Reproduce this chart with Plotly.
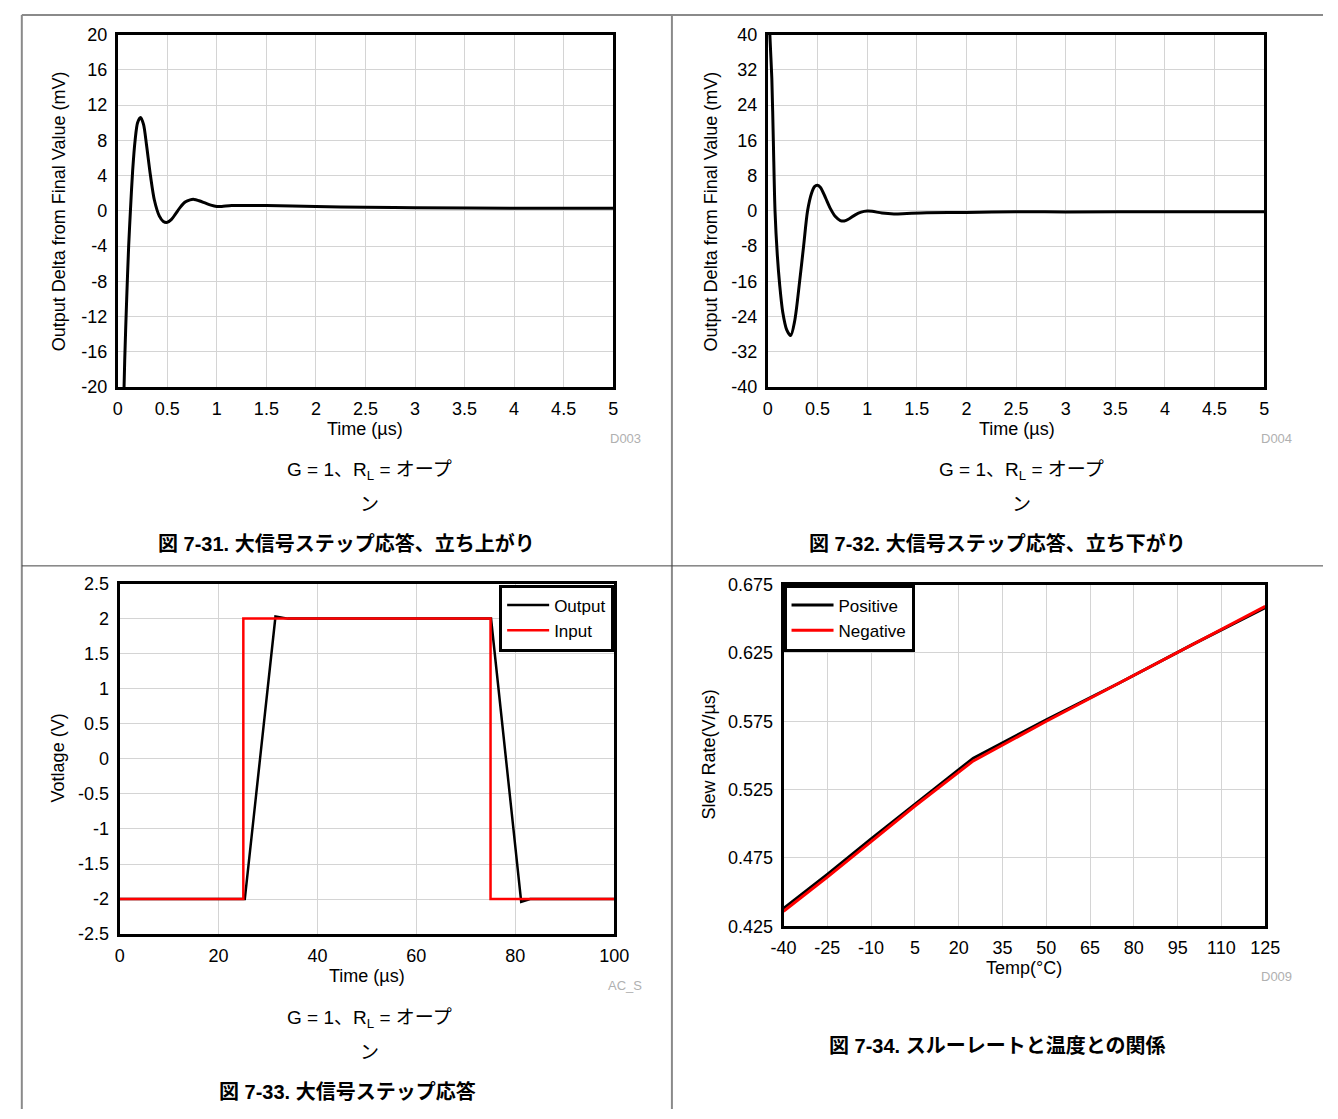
import plotly.graph_objects as go

W, H = 1338, 1119
FONT = "Liberation Sans, Arial, Noto Sans CJK JP, sans-serif"

# ---- Rising large-signal step response (mV from final value vs time, µs)
rise_t = [0.055, 0.07, 0.09, 0.11, 0.13, 0.15, 0.175, 0.20, 0.23, 0.26, 0.29, 0.33,
          0.37, 0.42, 0.46, 0.50, 0.54, 0.58, 0.63, 0.68, 0.73, 0.77, 0.82, 0.88,
          0.94, 1.0, 1.05, 1.15, 1.5, 2.0, 2.5, 3.0, 4.0, 5.0]
rise_mv = [-24, -17, -10, -4, 0.5, 4.5, 8, 10, 10.6, 9.8, 7.5, 4,
           1.2, -0.6, -1.2, -1.3, -1.0, -0.4, 0.4, 1.0, 1.25, 1.3, 1.15, 0.9,
           0.65, 0.5, 0.5, 0.6, 0.6, 0.5, 0.4, 0.35, 0.3, 0.3]

# ---- Falling large-signal step response
fall_t = [0.01, 0.02, 0.04, 0.055, 0.072, 0.095, 0.12, 0.15, 0.19, 0.23, 0.27, 0.32,
          0.36, 0.40, 0.44, 0.47, 0.50, 0.53, 0.58, 0.63, 0.68, 0.73, 0.77, 0.82,
          0.88, 0.94, 1.0, 1.05, 1.15, 1.27, 1.4, 1.6, 2.0, 2.5, 3.0, 4.0, 5.0]
fall_mv = [50, 40, 30, 16, 0, -10, -17, -23, -27, -28.3, -25, -16,
           -8, 0, 4, 5.5, 5.8, 5.3, 3, 0.5, -1.3, -2.2, -2.3, -1.8,
           -0.9, -0.3, -0.05, -0.1, -0.5, -0.7, -0.6, -0.45, -0.35, -0.2, -0.25, -0.2, -0.2]

# ---- Large-signal step response (V vs µs)
out_t = [0, 25.3, 31.5, 34, 75.1, 81.2, 83, 100]
out_v = [-2.0, -2.0, 2.03, 2.0, 2.0, -2.04, -2.0, -2.0]
in_t = [0, 25, 25, 75, 75, 100]
in_v = [-2.0, -2.0, 2.0, 2.0, -2.0, -2.0]

# ---- Slew rate vs temperature
temp_c = [-40, -25, -10, 5, 25, 50, 75, 100, 125]
sr_pos = [0.438, 0.463, 0.489, 0.514, 0.548, 0.576, 0.603, 0.631, 0.658]
sr_neg = [0.436, 0.461, 0.487, 0.513, 0.546, 0.575, 0.603, 0.631, 0.659]

# ---- Tick labels
t5_vals = [0, 0.5, 1, 1.5, 2, 2.5, 3, 3.5, 4, 4.5, 5]
t5_text = ["0", "0.5", "1", "1.5", "2", "2.5", "3", "3.5", "4", "4.5", "5"]
y20_vals = [-20, -16, -12, -8, -4, 0, 4, 8, 12, 16, 20]
y20_text = ["-20", "-16", "-12", "-8", "-4", "0", "4", "8", "12", "16", "20"]
y40_vals = [-40, -32, -24, -16, -8, 0, 8, 16, 24, 32, 40]
y40_text = ["-40", "-32", "-24", "-16", "-8", "0", "8", "16", "24", "32", "40"]
t100_vals = [0, 20, 40, 60, 80, 100]
t100_text = ["0", "20", "40", "60", "80", "100"]
v_vals = [-2.5, -2, -1.5, -1, -0.5, 0, 0.5, 1, 1.5, 2, 2.5]
v_text = ["-2.5", "-2", "-1.5", "-1", "-0.5", "0", "0.5", "1", "1.5", "2", "2.5"]
temp_vals = [-40, -25, -10, 5, 20, 35, 50, 65, 80, 95, 110, 125]
temp_text = ["-40", "-25", "-10", "5", "20", "35", "50", "65", "80", "95", "110", "125"]
sr_vals = [0.425, 0.475, 0.525, 0.575, 0.625, 0.675]
sr_text = ["0.425", "0.475", "0.525", "0.575", "0.625", "0.675"]


def px(x):
    return x / W


def py(y):
    return 1 - y / H


fig = go.Figure()

fig.add_trace(go.Scatter(x=rise_t, y=rise_mv, mode="lines", xaxis="x", yaxis="y",
                         line=dict(color="black", width=3, shape="spline", smoothing=0.8),
                         showlegend=False))
fig.add_trace(go.Scatter(x=fall_t, y=fall_mv, mode="lines", xaxis="x2", yaxis="y2",
                         line=dict(color="black", width=3, shape="spline", smoothing=0.8),
                         showlegend=False))
fig.add_trace(go.Scatter(x=out_t, y=out_v, mode="lines", xaxis="x3", yaxis="y3",
                         name="Output", line=dict(color="black", width=2.5), legend="legend"))
fig.add_trace(go.Scatter(x=in_t, y=in_v, mode="lines", xaxis="x3", yaxis="y3",
                         name="Input", line=dict(color="#ff0000", width=2.5), legend="legend"))
fig.add_trace(go.Scatter(x=temp_c, y=sr_pos, mode="lines", xaxis="x4", yaxis="y4",
                         name="Positive", line=dict(color="black", width=3), legend="legend2"))
fig.add_trace(go.Scatter(x=temp_c, y=sr_neg, mode="lines", xaxis="x4", yaxis="y4",
                         name="Negative", line=dict(color="#ff0000", width=3), legend="legend2"))


def axis(domain, rng, vals, text, anchor, standoff):
    return dict(domain=domain, range=rng, tickmode="array", tickvals=vals, ticktext=text,
                showgrid=True, gridcolor="#d4d4d4", gridwidth=1, zeroline=False,
                showline=True, linecolor="black", linewidth=3, mirror=True,
                ticks="", ticklabelstandoff=standoff,
                tickfont=dict(size=18, color="black", family=FONT),
                anchor=anchor, fixedrange=True)


# plot-area boxes in page pixels: (left, right, top, bottom)
boxes = {
    1: (107, 613, 25, 384),
    2: (771, 1278, 25, 384),
    3: (109, 614, 584, 941),
    4: (787, 1279, 585, 933),
}


def dx(n):
    l, r, t, b = boxes[n]
    return [px(l), px(r)]


def dy(n):
    l, r, t, b = boxes[n]
    return [py(b), py(t)]


XS, YS = 3, 4
layout_axes = dict(
    xaxis=axis(dx(1), [0, 5], t5_vals, t5_text, "y", XS),
    yaxis=axis(dy(1), [-20, 20], y20_vals, y20_text, "x", YS),
    xaxis2=axis(dx(2), [0, 5], t5_vals, t5_text, "y2", XS),
    yaxis2=axis(dy(2), [-40, 40], y40_vals, y40_text, "x2", YS),
    xaxis3=axis(dx(3), [0, 100], t100_vals, t100_text, "y3", XS),
    yaxis3=axis(dy(3), [-2.5, 2.5], v_vals, v_text, "x3", YS),
    xaxis4=axis(dx(4), [-40, 125], temp_vals, temp_text, "y4", XS),
    yaxis4=axis(dy(4), [0.425, 0.675], sr_vals, sr_text, "x4", YS),
)

ann = []


def text(x, y, s, size=18, color="black", angle=0):
    ann.append(dict(x=px(x), y=py(y), xref="paper", yref="paper", text=s, showarrow=False,
                    xanchor="center", yanchor="middle", textangle=angle,
                    font=dict(size=size, color=color, family=FONT)))


# axis titles
text(360, 427, "Time (µs)")
text(47, 205, "Output Delta from Final Value (mV)", angle=-90)
text(1025, 427, "Time (µs)")
text(713, 205, "Output Delta from Final Value (mV)", angle=-90)
text(362, 984, "Time (µs)")
text(46, 762, "Votlage (V)", angle=-90)
text(1033, 975, "Temp(°C)")
text(711, 758, "Slew Rate(V/µs)", angle=-90)

# figure ids
text(626, 436, "D003", size=13, color="#b0b0b0")
text(1290, 436, "D004", size=13, color="#b0b0b0")
text(625, 993, "AC_S", size=13, color="#b0b0b0")
text(1290, 984, "D009", size=13, color="#b0b0b0")

# conditions and captions
cond = "G = 1、R<sub>L</sub> = オープ"
for cx, cy in [(364, 469), (1030, 469), (364, 1027)]:
    text(cx, cy, cond, size=19)
    text(cx, cy + 34, "ン", size=19)

text(341, 543, "<b>図 7-31. 大信号ステップ応答、立ち上がり</b>", size=20)
text(1006, 543, "<b>図 7-32. 大信号ステップ応答、立ち下がり</b>", size=20)
text(342, 1101, "<b>図 7-33. 大信号ステップ応答</b>", size=20)
text(1006, 1055, "<b>図 7-34. スルーレートと温度との関係</b>", size=20)

# page frame lines
shapes = [
    dict(type="line", xref="paper", yref="paper", x0=px(9), x1=px(9), y0=py(5), y1=0,
         line=dict(color="#8a8a8a", width=2)),
    dict(type="line", xref="paper", yref="paper", x0=px(9), x1=1, y0=py(5), y1=py(5),
         line=dict(color="#8a8a8a", width=2)),
    dict(type="line", xref="paper", yref="paper", x0=px(673), x1=px(673), y0=py(5), y1=0,
         line=dict(color="#8a8a8a", width=2)),
    dict(type="line", xref="paper", yref="paper", x0=px(9), x1=1, y0=py(566), y1=py(566),
         line=dict(color="#444444", width=1)),
]

legend_common = dict(bgcolor="white", bordercolor="black", borderwidth=3,
                     font=dict(size=17, color="black", family=FONT), itemwidth=42,
                     xref="paper", yref="paper", yanchor="top", tracegroupgap=0)

fig.update_layout(
    width=W, height=H,
    margin=dict(l=0, r=0, t=0, b=0),
    paper_bgcolor="white", plot_bgcolor="white",
    font=dict(family=FONT, size=18, color="black"),
    showlegend=True,
    legend=dict(x=px(614), y=py(585), xanchor="right", **legend_common),
    legend2=dict(x=px(787), y=py(585), xanchor="left", **legend_common),
    annotations=ann,
    shapes=shapes,
    **layout_axes,
)

fig.write_html("out.html")
